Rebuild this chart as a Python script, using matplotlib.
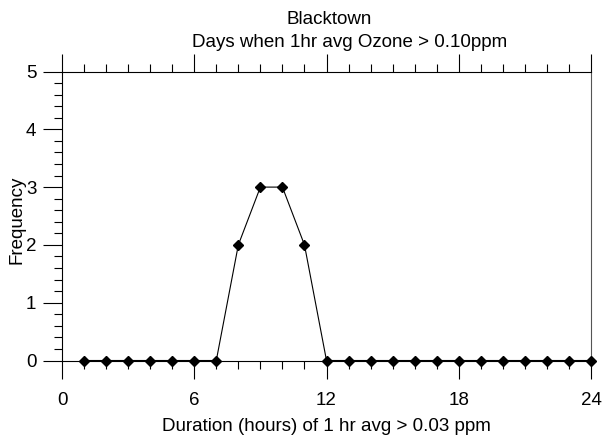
import matplotlib.pyplot as plt
from matplotlib.ticker import MultipleLocator

plt.rcParams["font.family"] = ["Liberation Sans", "DejaVu Sans"]

hours = [1, 2, 3, 4, 5, 6, 7, 8, 9, 10, 11, 12,
         13, 14, 15, 16, 17, 18, 19, 20, 21, 22, 23, 24]
frequency = [0, 0, 0, 0, 0, 0, 0, 2, 3, 3, 2, 0,
             0, 0, 0, 0, 0, 0, 0, 0, 0, 0, 0, 0]

title_line1 = "Blacktown"
title_line2 = "Days when 1hr avg Ozone > 0.10ppm"
x_label = "Duration (hours) of 1 hr avg > 0.03 ppm"
y_label = "Frequency"

fig = plt.figure(figsize=(6.03, 4.41), dpi=100)
ax = fig.add_axes([62 / 603, 1 - 360.5 / 441, 529 / 603, 289 / 441])

ax.plot(hours, frequency, color="black", linewidth=0.8,
        marker="D", markersize=5.5, clip_on=False, zorder=3)

ax.set_xlim(0, 24)
ax.set_ylim(0, 5)

ax.xaxis.set_major_locator(MultipleLocator(6))
ax.xaxis.set_minor_locator(MultipleLocator(1))
ax.yaxis.set_major_locator(MultipleLocator(1))
ax.yaxis.set_minor_locator(MultipleLocator(0.2))

ax.tick_params(axis="x", which="major", direction="out", length=13,
               width=0.8, top=True, labeltop=False, labelsize=13.5, pad=10)
ax.tick_params(axis="x", which="minor", direction="out", length=5.5,
               width=0.8, top=True)
ax.tick_params(axis="y", which="major", direction="out", length=13.5,
               width=0.8, right=False, labelsize=13.5, pad=5)
ax.tick_params(axis="y", which="minor", direction="out", length=5.8,
               width=0.8, right=False)

for side in ["left", "bottom", "top", "right"]:
    ax.spines[side].set_linewidth(0.8)
ax.spines["right"].set_color("#555555")

ax.set_xlabel(x_label, fontsize=13.5)
ax.xaxis.set_label_coords(0.5, -(418 - 360.5) / 289)
ax.set_ylabel(y_label, fontsize=13.5, va="center")
ax.yaxis.set_label_coords(-(62 - 17) / 529, (360.5 - 220) / 289)

fig.text(329.5 / 603, 1 - 24 / 441, title_line1, ha="center", va="baseline",
         fontsize=13.5)
fig.text(350 / 603, 1 - 46.7 / 441, title_line2, ha="center", va="baseline",
         fontsize=13.5)

fig.savefig("out.png", dpi=100)
